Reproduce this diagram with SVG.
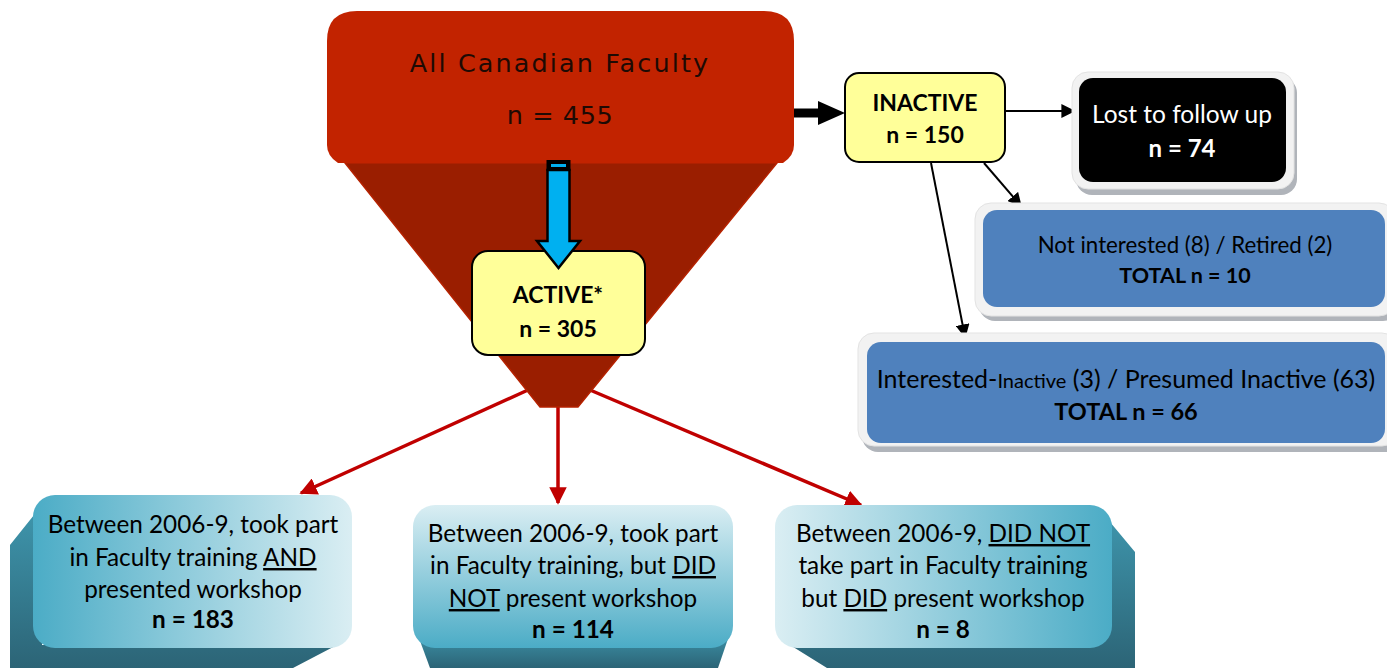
<svg xmlns="http://www.w3.org/2000/svg" width="1387" height="668" viewBox="0 0 1387 668">
<style>
.t{font-family:Lato,"Liberation Sans",sans-serif;text-anchor:middle;fill:#000}
.b{font-weight:bold}
.big{font-family:"DejaVu Sans",Verdana,sans-serif;text-anchor:middle;fill:#1e0a04}
.yel{fill:#FFFF99;stroke:#000;stroke-width:2}
.frame{fill:#F2F2F2;stroke:#E3E3E3;stroke-width:1}
.shadow{fill:#B0B4BA}
.blue{fill:#4F81BD}
.red{stroke:#C00000;stroke-width:3.5;fill:none}
.blk{stroke:#000;stroke-width:2;fill:none}
.u{text-decoration:underline}
</style>
<defs>
<marker id="ar" viewBox="0 0 10 10" refX="9" refY="5" markerWidth="5" markerHeight="5" orient="auto" markerUnits="strokeWidth"><path d="M0,0 L10,5 L0,10 Z" fill="#C00000"/></marker>
<marker id="ab" viewBox="0 0 10 10" refX="9" refY="5" markerWidth="7" markerHeight="7" orient="auto" markerUnits="strokeWidth"><path d="M0,0 L10,5 L0,10 Z" fill="#000"/></marker>
<linearGradient id="gL" x1="0" y1="0" x2="1" y2="0"><stop offset="0" stop-color="#4BACC6"/><stop offset="1" stop-color="#DAEEF3"/></linearGradient>
<linearGradient id="gR" x1="0" y1="0" x2="1" y2="0"><stop offset="0" stop-color="#DAEEF3"/><stop offset="1" stop-color="#4BACC6"/></linearGradient>
<linearGradient id="gM" x1="0" y1="0" x2="0" y2="1"><stop offset="0" stop-color="#DAEEF3"/><stop offset="1" stop-color="#4BACC6"/></linearGradient>
<linearGradient id="gX" x1="0" y1="0" x2="0" y2="1"><stop offset="0" stop-color="#3F97AE"/><stop offset="1" stop-color="#2C6476"/></linearGradient>
</defs>

<g id="connectors">
<line class="red" x1="528" y1="390" x2="301" y2="493" marker-end="url(#ar)"/>
<line class="red" x1="590" y1="390" x2="861" y2="505" marker-end="url(#ar)"/>
<line class="red" x1="558" y1="400" x2="558" y2="503" marker-end="url(#ar)"/>
<line x1="794" y1="113" x2="822" y2="113" stroke="#000" stroke-width="9"/>
<path d="M818,101 L845,113 L818,125 Z" fill="#000"/>
<line class="blk" x1="993" y1="111" x2="1074" y2="111" marker-end="url(#ab)"/>
<line class="blk" x1="984" y1="163" x2="1021" y2="206" marker-end="url(#ab)"/>
<line class="blk" x1="931" y1="163" x2="965" y2="337" marker-end="url(#ab)"/>
</g>

<g id="all-faculty">
<path d="M345,163 L777,163 L578,407 L540,407 Z" fill="#9A1E00" stroke="#B52200" stroke-width="1.5"/>
<path d="M357,11 L764,11 Q794,11 794,41 L794,145 Q794,156 783,163 L338,163 Q327,156 327,145 L327,41 Q327,11 357,11 Z" fill="#C22300"/>
<text class="big" x="560" y="72" font-size="25.5" letter-spacing="2.1">All Canadian Faculty</text>
<text class="big" x="560" y="124" font-size="25.5" letter-spacing="0.6">n = 455</text>
</g>

<g id="active">
<rect class="yel" x="472" y="251" width="173" height="104" rx="16"/>
<text class="t b" x="558" y="303" font-size="23">ACTIVE*</text>
<text class="t b" x="558" y="337" font-size="23">n = 305</text>
</g>

<g id="active-arrow">
<path d="M547.5,170 L569.5,170 L569.5,241 L580,241 L558.5,268 L537,241 L547.5,241 Z" fill="#00B0F0" stroke="#000" stroke-width="2.5" stroke-linejoin="miter"/>
<rect x="546.5" y="160" width="24" height="11" fill="#000"/>
<rect x="551" y="164" width="15" height="3" fill="#00B0F0"/>
</g>

<g id="inactive">
<rect class="yel" x="845" y="73" width="160" height="89" rx="14"/>
<text class="t b" x="925" y="111" font-size="23">INACTIVE</text>
<text class="t b" x="925" y="143" font-size="23">n = 150</text>
</g>

<g id="lost">
<rect class="shadow" x="1076" y="77" width="221" height="118" rx="16"/>
<rect class="frame" x="1072" y="72" width="222" height="117" rx="16"/>
<rect x="1079" y="78" width="207" height="104" rx="14" fill="#000"/>
<text class="t" x="1182" y="123" font-size="24.5" style="fill:#fff">Lost to follow up</text>
<text class="t b" x="1182" y="157" font-size="24" style="fill:#fff">n = 74</text>
</g>

<g id="not-interested">
<rect class="shadow" x="979" y="208" width="420" height="113" rx="16"/>
<rect class="frame" x="975" y="203" width="420" height="113" rx="16"/>
<rect class="blue" x="983" y="210" width="402" height="97" rx="14"/>
<text class="t" x="1185" y="253" font-size="22.3">Not interested (8) / Retired (2)</text>
<text class="t b" x="1185" y="283" font-size="21.5">TOTAL n = 10</text>
</g>

<g id="interested">
<rect class="shadow" x="862" y="338" width="540" height="114" rx="16"/>
<rect class="frame" x="858" y="333" width="540" height="113" rx="16"/>
<rect class="blue" x="867" y="342" width="518" height="101" rx="14"/>
<text class="t" x="1126" y="388" font-size="25">Interested-<tspan font-size="20">Inactive</tspan> (3) / Presumed Inactive (63)</text>
<text class="t b" x="1126" y="420" font-size="23.5">TOTAL n = 66</text>
</g>

<g id="both">
<path d="M42,505 L10,545 L10,668 L293,668 L337,645 L42,645 Z" fill="url(#gX)"/>
<rect x="33" y="495" width="319" height="153" rx="22" fill="url(#gL)"/>
<text class="t" x="193" y="533" font-size="24.3">Between 2006-9, took part</text>
<text class="t" x="193" y="566" font-size="24.3">in Faculty training <tspan class="u">AND</tspan></text>
<text class="t" x="193" y="598" font-size="24.3">presented workshop</text>
<text class="t b" x="193" y="628" font-size="24.3">n = 183</text>
</g>

<g id="training-only">
<path d="M416,630 L430,668 L718,668 L731,630 Z" fill="url(#gX)"/>
<rect x="413" y="505" width="320" height="143" rx="22" fill="url(#gM)"/>
<text class="t" x="573" y="542" font-size="24.3">Between 2006-9, took part</text>
<text class="t" x="573" y="574" font-size="24.3">in Faculty training, but <tspan class="u">DID</tspan></text>
<text class="t" x="573" y="607" font-size="24.3"><tspan class="u">NOT</tspan> present workshop</text>
<text class="t b" x="573" y="638" font-size="24.3">n = 114</text>
</g>

<g id="workshop-only">
<path d="M1100,510 L1135,552 L1135,668 L827,668 L790,645 L1100,645 Z" fill="url(#gX)"/>
<rect x="775" y="505" width="337" height="143" rx="22" fill="url(#gR)"/>
<text class="t" x="943" y="542" font-size="24.3">Between 2006-9, <tspan class="u">DID NOT</tspan></text>
<text class="t" x="943" y="574" font-size="24.3">take part in Faculty training</text>
<text class="t" x="943" y="607" font-size="24.3">but <tspan class="u">DID</tspan> present workshop</text>
<text class="t b" x="943" y="638" font-size="24.3">n = 8</text>
</g>
</svg>
